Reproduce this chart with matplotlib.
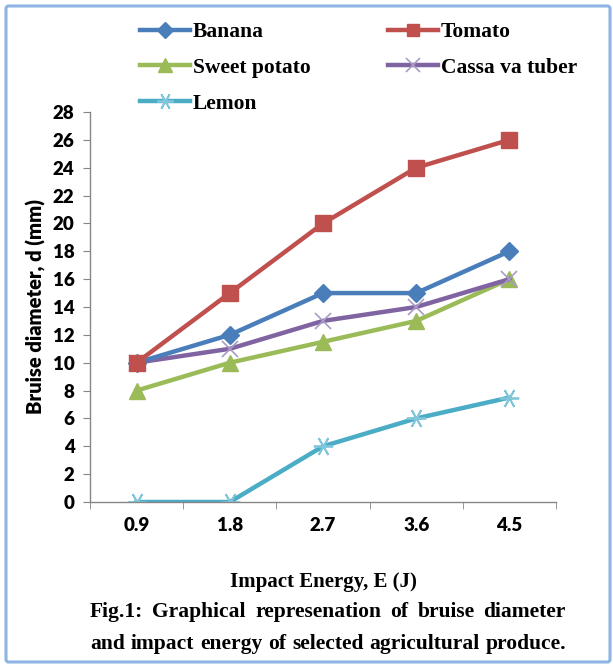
import matplotlib
matplotlib.use("Agg")
import matplotlib.pyplot as plt
from matplotlib.patches import FancyBboxPatch

energy = ["0.9", "1.8", "2.7", "3.6", "4.5"]
banana = [10, 12, 15, 15, 18]
tomato = [10, 15, 20, 24, 26]
sweet_potato = [8, 10, 11.5, 13, 16]
cassava = [10, 11, 13, 14, 16]
lemon = [0, 0, 4, 6, 7.5]

caption = ["Fig.1: Graphical represenation of bruise diameter",
           "and impact energy of selected agricultural produce."]

serif = "Liberation Serif"
sans = "Lato"

fig = plt.figure(figsize=(6.13, 6.65), dpi=100)
ax = fig.add_axes([90 / 613, 1 - 502 / 665, (556 - 90) / 613, (502 - 112) / 665])

x = range(len(energy))
lw = 3.2
h_lem, = ax.plot(x, lemon, color="#4BACC6", lw=lw, marker=(6, 2, 90), ms=14, mew=1.3,
                 mec="#7FC6DA", label="Lemon", zorder=2)
h_swp, = ax.plot(x, sweet_potato, color="#9BBB59", lw=lw, marker="^", ms=12,
                 label="Sweet potato", zorder=3)
h_cas, = ax.plot(x, cassava, color="#8064A2", lw=lw, marker="x", ms=12, mew=1.2,
                 mec="#A99BC4", label="Cassa va tuber", zorder=4)
h_ban, = ax.plot(x, banana, color="#4A7EBB", lw=lw, marker="D", ms=9, label="Banana", zorder=5)
h_tom, = ax.plot(x, tomato, color="#C0504D", lw=lw, marker="s", ms=11, label="Tomato", zorder=6)

ax.set_xlim(-0.5, len(energy) - 0.5)
ax.set_ylim(0, 28)
ax.set_yticks(range(0, 29, 2))
ax.set_xticks(list(x))
ax.set_xticklabels(energy)
ax.set_xticks([i - 0.5 for i in range(len(energy) + 1)], minor=True)
ax.tick_params(axis="x", which="major", length=0, pad=11)
ax.tick_params(axis="x", which="minor", length=5, color="#868686", direction="out")
ax.tick_params(axis="y", length=5, color="#868686", direction="out", pad=6)
for lab in ax.get_xticklabels() + ax.get_yticklabels():
    lab.set_fontfamily(sans)
    lab.set_fontweight("heavy")
    lab.set_fontsize(13.5)
for s in ["top", "right"]:
    ax.spines[s].set_visible(False)
for s in ["left", "bottom"]:
    ax.spines[s].set_color("#868686")
    ax.spines[s].set_linewidth(1.0)

ax.set_xlabel("Impact Energy, E (J)", fontfamily=serif, fontweight="bold", fontsize=15, labelpad=27)
ax.set_ylabel("Bruise diameter, d (mm)", fontfamily=sans, fontweight="heavy", fontsize=14.5, labelpad=5)

fig.legend(handles=[h_ban, h_swp, h_lem, h_tom, h_cas], ncol=2, frameon=False,
           loc="upper left", bbox_to_anchor=(121 / 613, 1 - 3 / 665),
           prop={"family": serif, "weight": "bold", "size": 15.5},
           handlelength=2.3, handletextpad=0.15, columnspacing=3.6, labelspacing=0.72,
           markerscale=0.85)

# justified caption
fig.canvas.draw()
r = fig.canvas.get_renderer()
left, right = 90, 566
for i, line in enumerate(caption):
    y = 1 - (612 + 32 * i) / 665
    words = line.split(" ")
    texts = [fig.text(0, y, w, fontfamily=serif, fontweight="bold", fontsize=15.5, va="center")
             for w in words]
    widths = [t.get_window_extent(r).width for t in texts]
    gap = max((right - left - sum(widths)) / (len(words) - 1), 3)
    pos = left
    for t, w in zip(texts, widths):
        t.set_x(pos / 613)
        pos += w + gap

fig.patches.append(FancyBboxPatch((6 / 613, 3 / 665), 604 / 613, 656 / 665,
                                  boxstyle="round,pad=0,rounding_size=0.004",
                                  transform=fig.transFigure, fill=False,
                                  ec="#8EB4E3", lw=2.2))

fig.savefig("out.png", dpi=100)
